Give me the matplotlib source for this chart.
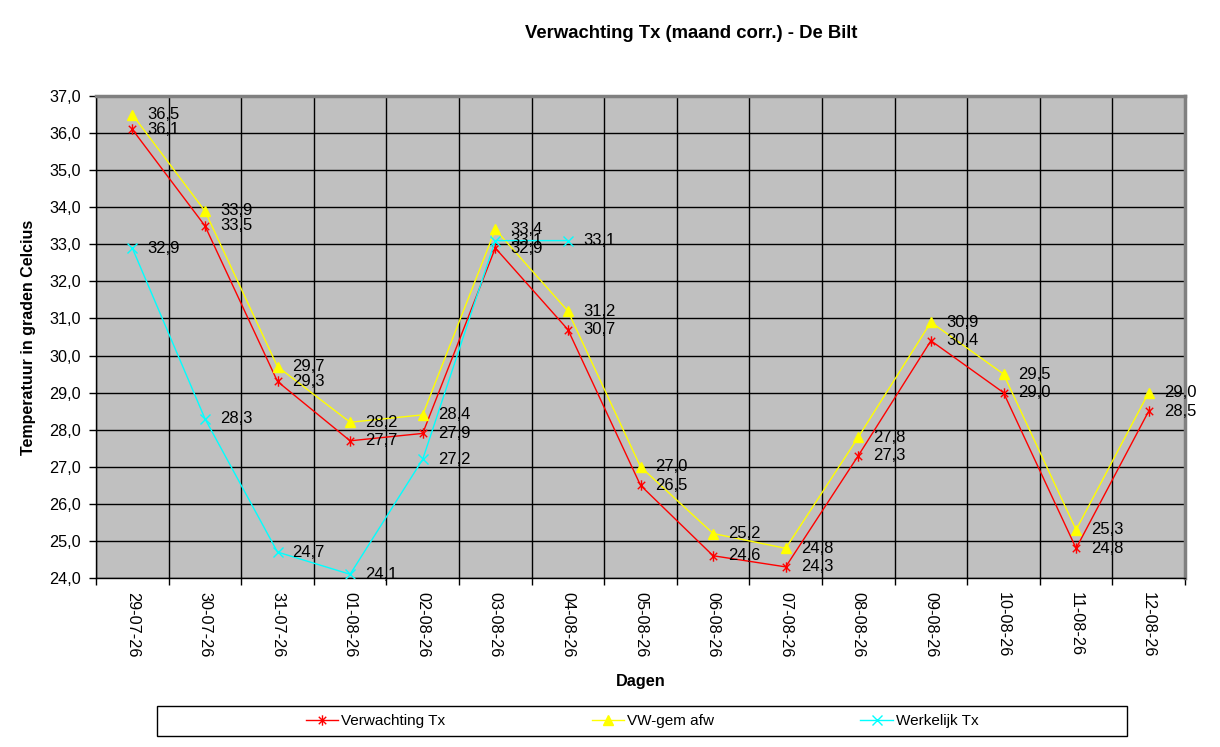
import numpy as np
import matplotlib
matplotlib.use("Agg")
import matplotlib.pyplot as plt
from matplotlib.path import Path
from matplotlib.patches import Rectangle

plt.rcParams["font.family"] = ["Liberation Sans", "DejaVu Sans"]

# ===== DATA =====
dagen = ["29-07-26", "30-07-26", "31-07-26", "01-08-26", "02-08-26",
         "03-08-26", "04-08-26", "05-08-26", "06-08-26", "07-08-26",
         "08-08-26", "09-08-26", "10-08-26", "11-08-26", "12-08-26"]

verwachting = [36.1, 33.5, 29.3, 27.7, 27.9, 32.9, 30.7, 26.5,
               24.6, 24.3, 27.3, 30.4, 29.0, 24.8, 28.5]
vw_gem = [36.5, 33.9, 29.7, 28.2, 28.4, 33.4, 31.2, 27.0,
          25.2, 24.8, 27.8, 30.9, 29.5, 25.3, 29.0]
werkelijk = [32.9, 28.3, 24.7, 24.1, 27.2, 33.1, 33.1,
             np.nan, np.nan, np.nan, np.nan, np.nan, np.nan, np.nan, np.nan]

# asterisk marker like Excel's star (x plus vertical bar)
star = Path([(-1, -1), (1, 1), (-1, 1), (1, -1), (0, -1.4), (0, 1.4)],
            [Path.MOVETO, Path.LINETO] * 3)

# ===== PLOT =====
fig = plt.figure(figsize=(12.2, 7.47), dpi=100)
ax = fig.add_axes([96 / 1220, 1 - 578 / 747, (1185 - 96) / 1220, (578 - 96) / 747])
ax.set_facecolor("#c0c0c0")

x = np.arange(len(dagen))

l1, = ax.plot(x, verwachting, color="red", lw=1, marker=star, ms=7.5,
              mfc="none", mec="red", mew=1, label="Verwachting Tx", zorder=3)
l2, = ax.plot(x, vw_gem, color="yellow", lw=1, marker="^", ms=7.5,
              mfc="yellow", mec="yellow", label="VW-gem afw", zorder=3)
l3, = ax.plot(x, werkelijk, color="cyan", lw=1, marker="x", ms=7,
              mew=1, label="Werkelijk Tx", zorder=3)

# data labels
for series in (verwachting, vw_gem, werkelijk):
    for xi, v in zip(x, series):
        if np.isnan(v):
            continue
        ax.annotate(f"{v:.1f}".replace(".", ","), (xi, v), xytext=(15, 0),
                    textcoords="offset pixels", va="center", ha="left",
                    fontsize=12, zorder=4)

# ===== AXES =====
ax.set_xlim(-0.5, len(dagen) - 0.5)
ax.set_ylim(24, 37)

ax.set_xticks(x)
ax.set_xticklabels(dagen, rotation=270, fontsize=11.7)
ax.set_xticks(np.arange(-0.5, len(dagen)), minor=True)
ax.tick_params(axis="x", which="major", length=0, pad=10)
ax.tick_params(axis="x", which="minor", length=5, width=1, color="black")

yt = np.arange(24, 38)
ax.set_yticks(yt)
ax.set_yticklabels([f"{v:.1f}".replace(".", ",") for v in yt], fontsize=11.7)
ax.tick_params(axis="y", length=5, width=1, pad=6)

ax.grid(axis="x", which="minor", color="black", lw=1)
ax.grid(axis="y", which="major", color="black", lw=1)
ax.set_axisbelow(True)

for side in ("left", "bottom"):
    ax.spines[side].set_color("black")
    ax.spines[side].set_linewidth(1)
for side in ("top", "right"):
    ax.spines[side].set_color("#808080")
    ax.spines[side].set_linewidth(2.5)

ax.set_xlabel("Dagen", fontsize=11.7, fontweight="bold", labelpad=12)
ax.set_ylabel("Temperatuur in graden Celcius", fontsize=11.5, fontweight="bold", labelpad=9)

fig.text(691 / 1220, 1 - 33 / 747, "Verwachting Tx (maand corr.) - De Bilt",
         ha="center", va="center", fontsize=13.3, fontweight="bold")

# ===== LEGEND =====
fig.patches.append(Rectangle((157 / 1220, 1 - 736 / 747), (1127 - 157) / 1220, 30 / 747,
                             transform=fig.transFigure, fill=False,
                             edgecolor="black", lw=1))
fig.legend(handles=[l1, l2, l3], loc="center", ncol=3, frameon=False,
           bbox_to_anchor=(642 / 1220, 1 - 721 / 747), fontsize=11,
           handlelength=2.1, handletextpad=0.2, columnspacing=9.6)

fig.savefig("out.png", dpi=100)
